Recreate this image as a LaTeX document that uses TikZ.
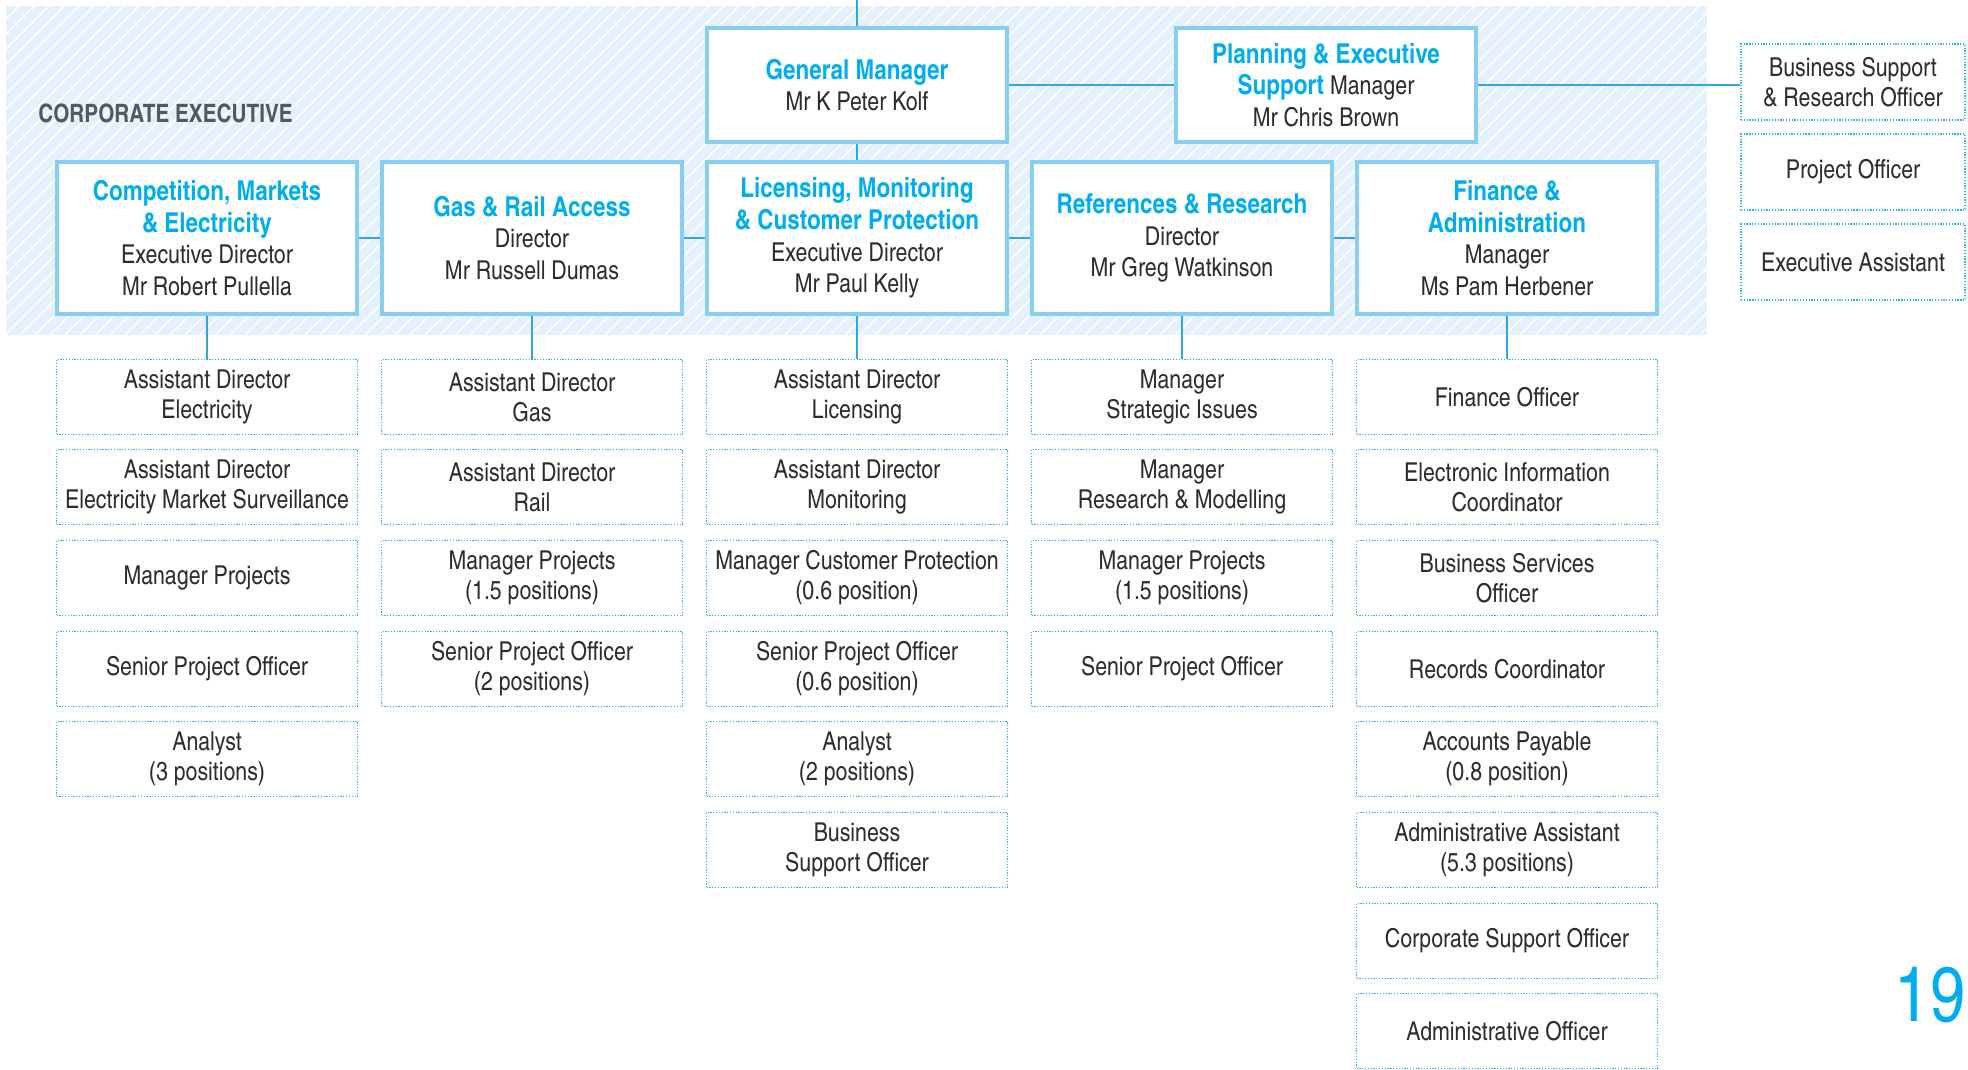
\documentclass[tikz,border=0pt]{standalone}
\usepackage{fontspec}
\setmainfont{texgyreheroscn}[Extension=.otf,UprightFont=*-regular,BoldFont=*-bold]
\usepackage{xcolor}
\definecolor{titleblue}{RGB}{0,174,239}
\definecolor{boxblue}{RGB}{136,206,240}
\definecolor{linkblue}{RGB}{45,168,224}
\definecolor{dotblue}{RGB}{40,182,232}
\definecolor{bgblue}{RGB}{228,240,251}
\definecolor{txtgray}{RGB}{45,45,45}
\definecolor{capgray}{RGB}{85,88,92}
\usepackage{tikz}
\newcommand{\boxtitle}[1]{{\fontsize{15.6}{18}\selectfont\bfseries\color{titleblue}#1}}
\tikzset{
  headbox/.style={draw=boxblue,line width=2.2pt,fill=white,inner sep=0pt,
    minimum width=6cm,minimum height=3.04cm,align=center,text=txtgray,
    font=\fontsize{14.8}{18}\selectfont},
  topbox/.style={headbox,minimum height=2.28cm},
  dotbox/.style={draw=dotblue,line width=0.7pt,dash pattern=on 0.7pt off 0.9pt,
    fill=white,inner sep=0pt,minimum width=6.02cm,minimum height=1.5cm,
    align=center,text=txtgray,font=\fontsize{14.8}{17}\selectfont},
  sidebox/.style={dotbox,minimum width=4.48cm,minimum height=1.52cm},
  link/.style={draw=linkblue,line width=1.1pt},
  hatch/.style={white,line width=0.9pt}
}

\begin{document}
\begin{tikzpicture}[x=0.02cm,y=-0.02cm]
  \useasboundingbox (0,0) rectangle (1968,1069);

  \begin{scope}
    \clip (6,6) rectangle (1707,335);
    \fill[bgblue] (6,6) rectangle (1707,335);
    \foreach \x in {-340,-325,...,1710}
      \draw[hatch] (\x,335) -- (\x+329,6);
  \end{scope}

  \node[anchor=west,inner sep=0pt,text=capgray,font=\bfseries\fontsize{14.4}{16}\selectfont]
    (corp) at (38,113) {CORPORATE EXECUTIVE};

  \coordinate (top) at (857,0);
  \node[topbox] (gm)   at (857,85)  {\boxtitle{General Manager}\\Mr K Peter Kolf};
  \node[topbox] (plan) at (1326,85) {\boxtitle{Planning \& Executive}\\\boxtitle{Support} Manager\\Mr Chris Brown};

  \node[sidebox] (bsro) at (1853,82)  {Business Support\\\& Research Officer};
  \node[sidebox] (po)   at (1853,172) {Project Officer};
  \node[sidebox] (ea)   at (1853,262) {Executive Assistant};

  \node[headbox] (cme) at (207,238)  {\boxtitle{Competition, Markets}\\\boxtitle{\& Electricity}\\Executive Director\\Mr Robert Pullella};
  \node[headbox] (gra) at (532,238)  {\boxtitle{Gas \& Rail Access}\\Director\\Mr Russell Dumas};
  \node[headbox] (lmc) at (857,238)  {\boxtitle{Licensing, Monitoring}\\\boxtitle{\& Customer Protection}\\Executive Director\\Mr Paul Kelly};
  \node[headbox] (rr)  at (1182,238) {\boxtitle{References \& Research}\\Director\\Mr Greg Watkinson};
  \node[headbox] (fa)  at (1507,238) {\boxtitle{Finance \&}\\\boxtitle{Administration}\\Manager\\Ms Pam Herbener};

  \node[dotbox] (cme1) at (207,397) {Assistant Director\\Electricity};
  \node[dotbox] (cme2) at (207,487) {Assistant Director\\Electricity Market Surveillance};
  \node[dotbox] (cme3) at (207,578) {Manager Projects};
  \node[dotbox] (cme4) at (207,669) {Senior Project Officer};
  \node[dotbox] (cme5) at (207,759) {Analyst\\(3 positions)};

  \node[dotbox] (gra1) at (532,397) {Assistant Director\\Gas};
  \node[dotbox] (gra2) at (532,487) {Assistant Director\\Rail};
  \node[dotbox] (gra3) at (532,578) {Manager Projects\\(1.5 positions)};
  \node[dotbox] (gra4) at (532,669) {Senior Project Officer\\(2 positions)};

  \node[dotbox] (lmc1) at (857,397) {Assistant Director\\Licensing};
  \node[dotbox] (lmc2) at (857,487) {Assistant Director\\Monitoring};
  \node[dotbox] (lmc3) at (857,578) {Manager Customer Protection\\(0.6 position)};
  \node[dotbox] (lmc4) at (857,669) {Senior Project Officer\\(0.6 position)};
  \node[dotbox] (lmc5) at (857,759) {Analyst\\(2 positions)};
  \node[dotbox] (lmc6) at (857,850) {Business\\Support Officer};

  \node[dotbox] (rr1) at (1182,397) {Manager\\Strategic Issues};
  \node[dotbox] (rr2) at (1182,487) {Manager\\Research \& Modelling};
  \node[dotbox] (rr3) at (1182,578) {Manager Projects\\(1.5 positions)};
  \node[dotbox] (rr4) at (1182,669) {Senior Project Officer};

  \node[dotbox] (fa1) at (1507,397)  {Finance Officer};
  \node[dotbox] (fa2) at (1507,487)  {Electronic Information\\Coordinator};
  \node[dotbox] (fa3) at (1507,578)  {Business Services\\Officer};
  \node[dotbox] (fa4) at (1507,669)  {Records Coordinator};
  \node[dotbox] (fa5) at (1507,759)  {Accounts Payable\\(0.8 position)};
  \node[dotbox] (fa6) at (1507,850)  {Administrative Assistant\\(5.3 positions)};
  \node[dotbox] (fa7) at (1507,941)  {Corporate Support Officer};
  \node[dotbox] (fa8) at (1507,1031) {Administrative Officer};

  \draw[link] (top) -- (gm.north);
  \draw[link] (gm.south) -- (lmc.north);
  \draw[link] (gm.east) -- (plan.west);
  \draw[link] (plan.east) -- (bsro.west |- plan.east);
  \draw[link] (cme.east) -- (gra.west);
  \draw[link] (gra.east) -- (lmc.west);
  \draw[link] (lmc.east) -- (rr.west);
  \draw[link] (rr.east) -- (fa.west);
  \draw[link] (cme.south) -- (cme1.north);
  \draw[link] (gra.south) -- (gra1.north);
  \draw[link] (lmc.south) -- (lmc1.north);
  \draw[link] (rr.south) -- (rr1.north);
  \draw[link] (fa.south) -- (fa1.north);

  \node[text=titleblue,font=\fontsize{44}{44}\selectfont] (page) at (1930,995) {19};
\end{tikzpicture}
\end{document}
